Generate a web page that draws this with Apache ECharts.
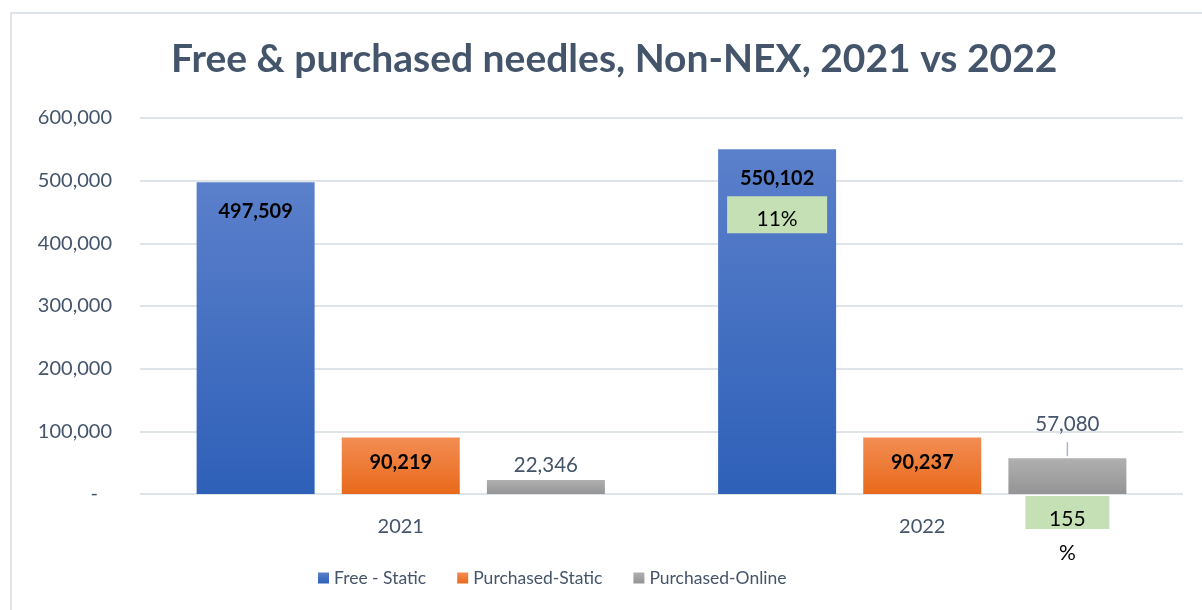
<!DOCTYPE html>
<html>
<head>
<meta charset="utf-8">
<script src="https://cdn.jsdelivr.net/npm/echarts@6/dist/echarts.min.js"></script>
<style>
  html, body { margin: 0; padding: 0; background: #ffffff; }
  #chart { width: 1202px; height: 610px; }
</style>
</head>
<body>
<div id="chart"></div>
<script>
// Needle distribution, Non-NEX sites
const years = ['2021', '2022'];
const freeStatic = [497509, 550102];
const purchasedStatic = [90219, 90237];
const purchasedOnline = [22346, 57080];
const seriesNames = ['Free - Static', 'Purchased-Static', 'Purchased-Online'];
const yTicks = { min: 0, max: 600000, interval: 100000 };

const FONT = 'Lato, "Open Sans", sans-serif';
const TEXT = '#44546a';

const fmt = v => Number(v).toLocaleString('en-US');
const pctChange = (a, b) => Math.round((b - a) / a * 100);

const freeGrowth = pctChange(freeStatic[0], freeStatic[1]);
const onlineGrowth = pctChange(purchasedOnline[0], purchasedOnline[1]);

function grad(top, bottom) {
  return new echarts.graphic.LinearGradient(0, 0, 0, 1, [
    { offset: 0, color: top }, { offset: 1, color: bottom }
  ]);
}

const boldLabel = {
  show: true,
  position: 'insideTop',
  fontFamily: FONT,
  fontSize: 20,
  fontWeight: 'bold',
  color: '#000000'
};

const chart = echarts.init(document.getElementById('chart'));
chart.setOption({
  backgroundColor: '#ffffff',
  animation: false,
  graphic: [{
    type: 'rect',
    silent: true,
    shape: { x: 11, y: 13, width: 1400, height: 800 },
    style: { fill: 'none', stroke: '#dfe3ea', lineWidth: 2 }
  }],
  title: {
    text: 'Free & purchased needles, Non-NEX, 2021 vs 2022',
    left: 166,
    top: 35,
    textStyle: { fontFamily: FONT, fontSize: 39, fontWeight: 'bold', color: TEXT }
  },
  legend: {
    data: seriesNames,
    bottom: 18,
    left: 313,
    itemWidth: 11,
    itemHeight: 11,
    itemGap: 31,
    icon: 'rect',
    textStyle: { fontFamily: FONT, fontSize: 17.5, color: TEXT }
  },
  grid: { left: 140, right: 19, top: 118, bottom: 116 },
  xAxis: {
    type: 'category',
    data: years,
    axisLine: { show: false },
    axisTick: { show: false },
    axisLabel: { fontFamily: FONT, fontSize: 20, color: TEXT, margin: 23 }
  },
  yAxis: {
    type: 'value',
    min: yTicks.min,
    max: yTicks.max,
    interval: yTicks.interval,
    axisLine: { show: false },
    axisTick: { show: false },
    splitLine: { lineStyle: { color: '#dfe3ea', width: 2 } },
    axisLabel: {
      fontFamily: FONT, fontSize: 20, color: TEXT, margin: 28,
      formatter: v => v === 0 ? '{d|-}' : fmt(v),
      rich: { d: { fontFamily: FONT, fontSize: 20, color: TEXT, padding: [0, 14, 0, 0] } }
    }
  },
  series: [
    {
      name: seriesNames[0],
      type: 'bar',
      barWidth: 118,
      barGap: '23%',
      itemStyle: { color: grad('#5b80cb', '#2e60b8') },
      data: freeStatic.map((v, i) => i === 1 ? {
        value: v,
        label: {
          formatter: '{v|' + fmt(v) + '}\n{s|}\n{g|' + freeGrowth + '%}',
          distance: 11,
          rich: {
            v: { fontFamily: FONT, fontSize: 20, fontWeight: 'bold', color: '#000', lineHeight: 36 },
            s: { lineHeight: 4, height: 4 },
            g: { fontFamily: FONT, fontSize: 21, fontWeight: 'normal', color: '#000', backgroundColor: '#c5e0b4',
                 width: 100, height: 29, lineHeight: 29, align: 'center', padding: [8, 0, 0, 0] }
          }
        }
      } : v),
      label: Object.assign({}, boldLabel, { distance: 19, formatter: p => fmt(p.value) })
    },
    {
      name: seriesNames[1],
      type: 'bar',
      barWidth: 118,
      barGap: '23%',
      itemStyle: { color: grad('#f38d53', '#e8691b') },
      data: purchasedStatic,
      label: Object.assign({}, boldLabel, { distance: 15, formatter: p => fmt(p.value) })
    },
    {
      // percentage annotation sitting under the online bar
      name: 'Online growth',
      type: 'bar',
      stack: 'online',
      barWidth: 118,
      barGap: '23%',
      itemStyle: { color: 'transparent' },
      data: purchasedOnline.map((v, i) => i === 1 ? 0 : '-'),
      label: {
        show: true,
        position: 'bottom',
        distance: 9,
        formatter: '{g|' + onlineGrowth + '}\n{p|%}',
        rich: {
          g: { fontFamily: FONT, fontSize: 21, color: '#000', backgroundColor: '#c5e0b4',
               width: 84, height: 19, lineHeight: 19, align: 'center', padding: [14, 0, 0, 0] },
          p: { fontFamily: FONT, fontSize: 21, color: '#000', lineHeight: 62, align: 'center' }
        }
      },
      tooltip: { show: false }
    },
    {
      name: seriesNames[2],
      type: 'bar',
      stack: 'online',
      barWidth: 118,
      barGap: '23%',
      itemStyle: { color: grad('#b0b0b0', '#949494') },
      data: purchasedOnline.map((v, i) => i === 1 ? {
        value: v,
        label: {
          distance: 2,
          formatter: '{v|' + fmt(v) + '}\n{l|}',
          rich: {
            v: { fontFamily: FONT, fontSize: 20.5, color: TEXT, lineHeight: 36 },
            l: { width: 1.5, height: 14, backgroundColor: '#a9b6c7' }
          }
        }
      } : v),
      label: {
        show: true,
        position: 'top',
        distance: 4,
        fontFamily: FONT,
        fontSize: 20.5,
        color: TEXT,
        formatter: p => fmt(p.value)
      }
    }
  ]
});
</script>
</body>
</html>
